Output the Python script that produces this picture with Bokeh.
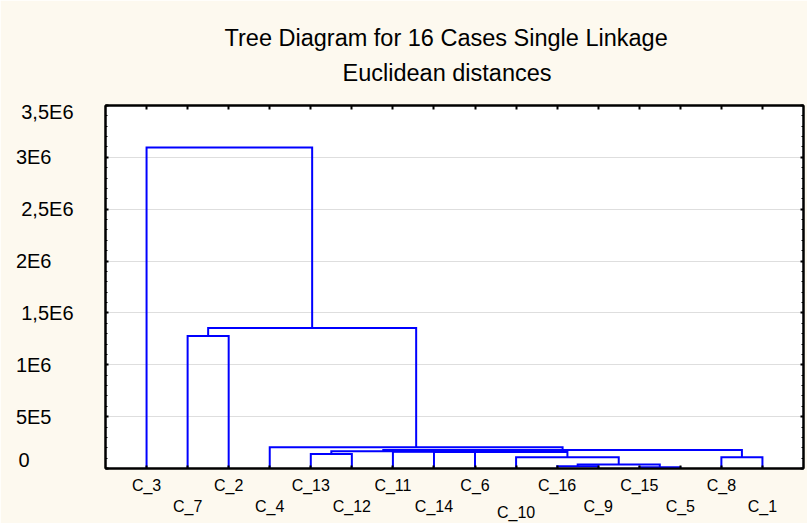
from bokeh.plotting import figure
from bokeh.models import (FixedTicker, LinearAxis, Range1d, Title)
from bokeh.embed import file_html
from bokeh.resources import INLINE

# ---- data ----
leaves = ["C_3", "C_7", "C_2", "C_4", "C_13", "C_12", "C_11", "C_14",
          "C_6", "C_10", "C_16", "C_9", "C_15", "C_5", "C_8", "C_1"]
# merges: "#k" refers to the cluster formed by merge k
merge_left = ["C_15", "C_16", "#1", "C_10", "C_8", "C_13", "C_6", "C_14",
              "C_11", "#5", "#9", "C_4", "C_7", "#12", "C_3"]
merge_right = ["C_5", "C_9", "#0", "#2", "C_1", "C_12", "#3", "#6",
               "#7", "#8", "#4", "#10", "C_2", "#11", "#13"]
merge_height = [13000, 22000, 39000, 109000, 109000, 140000, 158000, 160000,
                162000, 167000, 179000, 206000, 1277000, 1354000, 3095000]
y_ticks = [0, 500000, 1000000, 1500000, 2000000, 2500000, 3000000, 3500000]
y_tick_labels = ["0", "5E5", "1E6", "1,5E6", "2E6", "2,5E6", "3E6", "3,5E6"]
title_text = "Tree Diagram for 16 Cases Single Linkage"
subtitle_text = "Euclidean distances"

FONT = "Liberation Sans"
CREAM = "#FDF9EF"
W, H = 807, 523
B_LEFT, B_RIGHT, B_TOP, B_BOTTOM = 105, 4, 105, 55
Y_MAX = 3500000

# ---- compute dendrogram paths ----
pos = {name: i + 1 for i, name in enumerate(leaves)}
hgt = {name: 0.0 for name in leaves}
xs, ys = [], []
for k, (l, r, h) in enumerate(zip(merge_left, merge_right, merge_height)):
    xl, xr = pos[l], pos[r]
    xs.append([xl, xl, xr, xr])
    ys.append([hgt[l], h, h, hgt[r]])
    pos["#%d" % k] = (xl + xr) / 2.0
    hgt["#%d" % k] = h

p = figure(width=W, height=H, output_backend="svg", toolbar_location=None, title=None,
           x_range=Range1d(0, len(leaves) + 1), y_range=Range1d(0, Y_MAX),
           min_border_left=B_LEFT, min_border_right=B_RIGHT,
           min_border_top=B_TOP, min_border_bottom=B_BOTTOM)
p.background_fill_color = "white"
p.border_fill_color = CREAM
p.outline_line_color = "black"
p.outline_line_width = 2

leaf_pos = list(range(1, len(leaves) + 1))
leaf_ticker = FixedTicker(ticks=leaf_pos)
minor = [i * 100000 for i in range(36)]
y_ticker = FixedTicker(ticks=y_ticks, minor_ticks=minor)

p.xgrid.visible = False
p.ygrid.ticker = y_ticker
p.ygrid.grid_line_color = "#dedede"
p.ygrid.grid_line_width = 1


def style_axis(ax, ticker, tick_in):
    ax.ticker = ticker
    ax.major_tick_in = tick_in
    ax.major_tick_out = 0
    ax.minor_tick_in = 2
    ax.minor_tick_out = 0
    ax.major_tick_line_color = "black"
    ax.minor_tick_line_color = "black"
    ax.major_tick_line_width = 2
    ax.axis_line_color = "black"
    ax.axis_line_width = 2
    ax.major_label_text_font = FONT
    ax.major_label_text_color = "black"


def label_only_axis(ticker, **kw):
    ax = LinearAxis(**kw)
    style_axis(ax, ticker, 0)
    ax.major_tick_line_color = None
    ax.minor_tick_line_color = None
    ax.axis_line_color = None
    return ax


# ---- bottom case labels: three label rows ----
low_row = {"C_10"}
xb = p.xaxis[0]
style_axis(xb, leaf_ticker, 3)
xb.minor_tick_line_color = None
xb.major_label_overrides = {x: (n if i % 2 == 0 else "") for i, (x, n) in enumerate(zip(leaf_pos, leaves))}
xb.major_label_text_font_size = "16px"
xb.major_label_standoff = 8

xb2 = label_only_axis(leaf_ticker)
xb2.major_label_overrides = {x: (n if (i % 2 == 1 and n not in low_row) else "")
                             for i, (x, n) in enumerate(zip(leaf_pos, leaves))}
xb2.major_label_text_font_size = "16px"
xb2.major_label_standoff = 1
p.add_layout(xb2, "below")

xb3 = label_only_axis(leaf_ticker)
xb3.major_label_overrides = {x: (n if n in low_row else "") for x, n in zip(leaf_pos, leaves)}
xb3.major_label_text_font_size = "16px"
xb3.major_label_standoff = -14
p.add_layout(xb3, "below")

# ---- left value labels, left aligned: one axis per (label length, vertical nudge) ----
frame_h = H - B_TOP - B_BOTTOM
label_w = {5: 61, 3: 36, 1: 11}          # standoff pull-back in px per label length
def nudge(i):
    if i == 0:
        return 9        # bottom label sits a little above its tick
    if i == len(y_ticks) - 1:
        return -6       # top label sits a little below its tick
    return 0

keys = []
for i, s in enumerate(y_tick_labels):
    key = (len(s), nudge(i))
    if key not in keys:
        keys.append(key)
keys.sort(key=lambda k: (k != (5, 0)))

yl = p.yaxis[0]
style_axis(yl, y_ticker, 3)
for key in keys:
    g, nd = key
    if key == (5, 0):
        ax = yl
        ax.major_label_standoff = 32
    else:
        rng_name = "default"
        if nd != 0:
            shift = nd * Y_MAX / frame_h
            rng_name = "nudge%d" % nd
            p.extra_y_ranges[rng_name] = Range1d(-shift, Y_MAX - shift)
        ax = label_only_axis(y_ticker, y_range_name=rng_name)
        ax.major_label_standoff = -label_w[g]
        p.add_layout(ax, "left")
    ax.major_label_overrides = {t: (s if (len(s), nudge(i)) == key else "")
                                for i, (t, s) in enumerate(zip(y_ticks, y_tick_labels))}
    ax.major_label_text_font_size = "20px"

top_ax = LinearAxis()
style_axis(top_ax, leaf_ticker, 4)
top_ax.minor_tick_line_color = None
top_ax.major_label_text_font_size = "0px"
top_ax.major_label_standoff = 0
p.add_layout(top_ax, "above")

right_ax = LinearAxis()
style_axis(right_ax, y_ticker, 3)
right_ax.major_label_text_font_size = "0px"
right_ax.major_label_standoff = 0
p.add_layout(right_ax, "right")

p.multi_line(xs=xs, ys=ys, line_color="#0000FF", line_width=2, line_join="miter")

p.add_layout(Title(text=subtitle_text, align="left", text_font=FONT, text_font_size="23.5px",
                   text_font_style="normal", text_color="black", standoff=39, offset=237), "above")
p.add_layout(Title(text=title_text, align="left", text_font=FONT, text_font_size="23.5px",
                   text_font_style="normal", text_color="black", standoff=-25, offset=119), "above")

open("out.html", "w").write(file_html(p, INLINE))
